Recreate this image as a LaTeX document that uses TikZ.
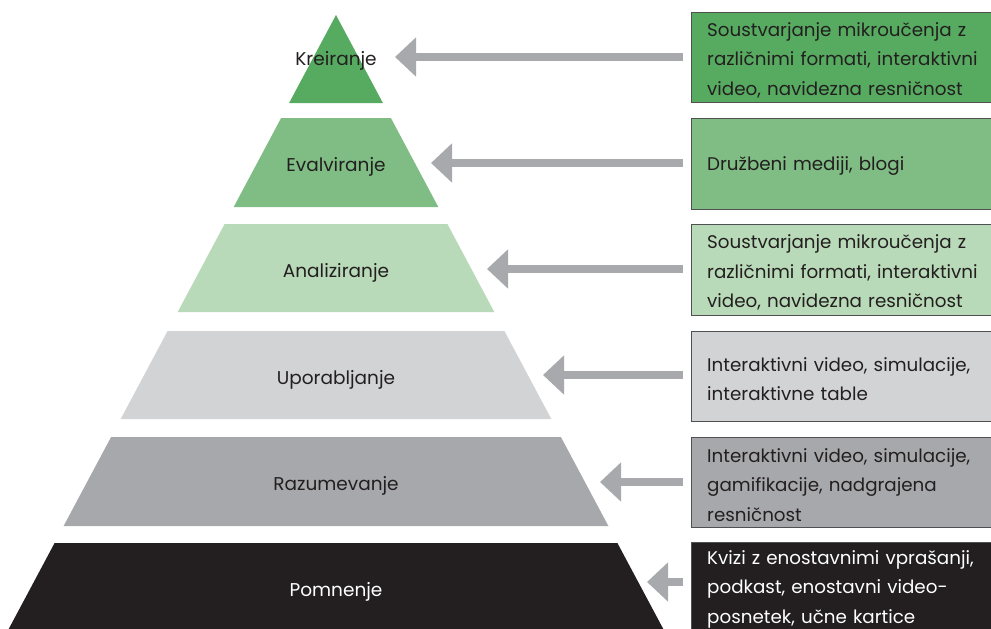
\documentclass[tikz,border=0pt]{standalone}
\usepackage{fontspec}
\setmainfont{Poppins}
\usetikzlibrary{arrows.meta}
\definecolor{lv1}{HTML}{56AB60}
\definecolor{lv2}{HTML}{7FBD84}
\definecolor{lv3}{HTML}{B9DAB8}
\definecolor{lv4}{HTML}{D2D3D5}
\definecolor{lv5}{HTML}{A7A8AB}
\definecolor{lv6}{HTML}{231F20}
\definecolor{arrgray}{HTML}{A7A9AC}
\definecolor{ink}{HTML}{231F20}
\definecolor{edge}{HTML}{505050}
\tikzset{
  lvtext/.style={font=\fontsize{18.5}{22}\selectfont, text=ink, inner sep=0pt},
  box/.style={draw=edge, line width=1pt, anchor=north west, minimum width=330pt,
    inner sep=0pt},
  boxtext/.style={anchor=west, text width=292pt, inner sep=0pt, align=left,
    text=ink, font=\fontsize{18.3}{29.5}\selectfont},
  arr/.style={draw=arrgray, line width=8pt, shorten <=8pt,
    -{Triangle[length=21pt,width=38pt]}}
}
\begin{document}
\begin{tikzpicture}[x=1pt,y=-1pt]
\useasboundingbox (0,0) rectangle (991,629);
\clip (0,0) rectangle (991,629);
% pyramid levels
\fill[lv1] (336,15) -- (382.9,103) -- (289.1,103) -- cycle;
\fill[lv2] (281.1,118) -- (390.9,118) -- (438.3,207) -- (233.7,207) -- cycle;
\fill[lv3] (224.6,224) -- (447.4,224) -- (494.3,312) -- (177.7,312) -- cycle;
\fill[lv4] (167.6,331) -- (504.4,331) -- (551.3,419) -- (120.7,419) -- cycle;
\fill[lv5] (111.1,437) -- (560.9,437) -- (608.4,526) -- (63.6,526) -- cycle;
\fill[lv6] (54.6,543) -- (617.4,543) -- (666.5,635) -- (5.5,635) -- cycle;
% labels
\node[lvtext] (l1) at (336,61) {Kreiranje};
\node[lvtext] (l2) at (336,167) {Evalviranje};
\node[lvtext] (l3) at (336,273) {Analiziranje};
\node[lvtext] (l4) at (336,380) {Uporabljanje};
\node[lvtext] (l5) at (336,486) {Razumevanje};
\node[lvtext, text=white] (l6) at (336,592) {Pomnenje};
% boxes
\node[box, fill=lv1, minimum height=90pt] (b1) at (691,12) {};
\node[box, fill=lv2, minimum height=91pt] (b2) at (691,117.5) {};
\node[box, fill=lv3, minimum height=91pt] (b3) at (691,224) {};
\node[box, fill=lv4, minimum height=90pt] (b4) at (691,331) {};
\node[box, fill=lv5, minimum height=90pt] (b5) at (691,437) {};
\node[box, fill=lv6, minimum height=96pt] (b6) at (691,542) {};
% box texts
\node[boxtext] (x1) at ([xshift=16pt,yshift=-2.5pt]b1.west)
  {Soustvarjanje mikroučenja z\\različnimi formati, interaktivni\\video, navidezna resničnost};
\node[boxtext] (x2) at ([xshift=16pt,yshift=-2.5pt]b2.west)
  {Družbeni mediji, blogi};
\node[boxtext] (x3) at ([xshift=16pt,yshift=-2.5pt]b3.west)
  {Soustvarjanje mikroučenja z\\različnimi formati, interaktivni\\video, navidezna resničnost};
\node[boxtext] (x4) at ([xshift=16pt,yshift=-2.5pt]b4.west)
  {Interaktivni video, simulacije,\\interaktivne table};
\node[boxtext] (x5) at ([xshift=16pt,yshift=-2.5pt]b5.west)
  {Interaktivni video, simulacije,\\gamifikacije, nadgrajena\\resničnost};
\node[boxtext, text=white] (x6) at ([xshift=16pt,yshift=1.5pt]b6.west)
  {Kvizi z enostavnimi vprašanji,\\podkast, enostavni video-\\posnetek, učne kartice};
% arrow tips
\coordinate (t1) at (395,57);
\coordinate (t2) at (431,163);
\coordinate (t3) at (487,269);
\coordinate (t4) at (543,375);
\coordinate (t5) at (600,482);
\coordinate (t6) at (647,582);
\foreach \i in {1,...,6}{
  \draw[arr] (t\i -| b\i.west) -- (t\i);
}
\end{tikzpicture}
\end{document}
